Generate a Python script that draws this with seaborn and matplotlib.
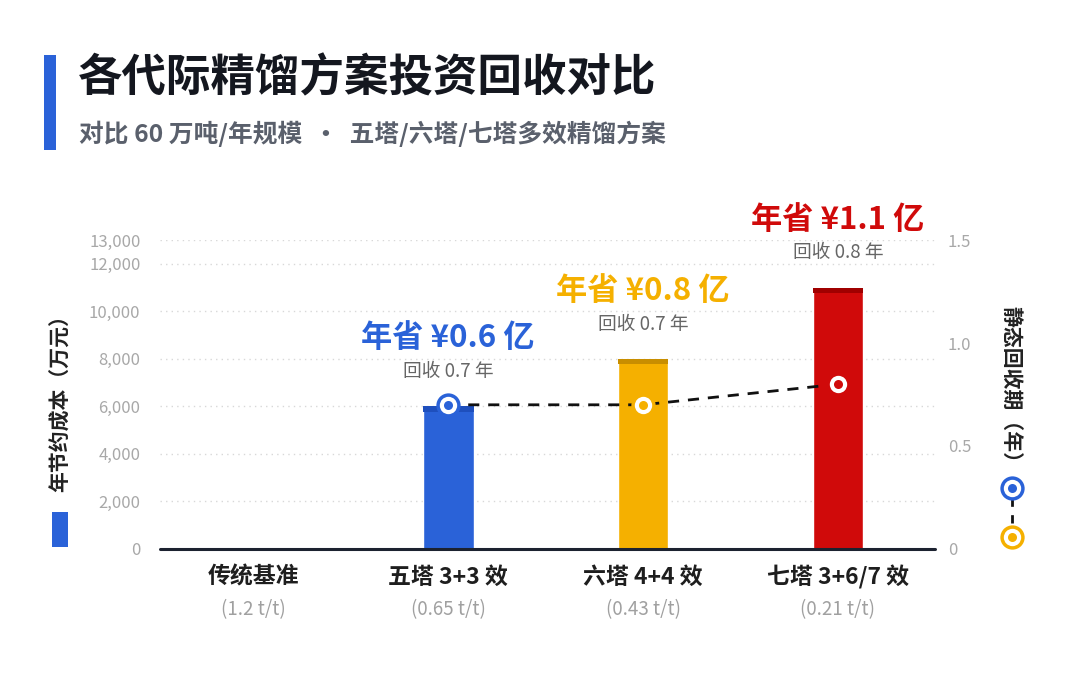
import numpy as np
import pandas as pd
import matplotlib
matplotlib.use("Agg")
import matplotlib.pyplot as plt
from matplotlib.patches import Rectangle
from matplotlib.lines import Line2D
from matplotlib.ticker import FuncFormatter
import seaborn as sns

# chart data
categories = ["传统基准", "五塔 3+3 效", "六塔 4+4 效", "七塔 3+6/7 效"]
intensity = ["(1.2 t/t)", "(0.65 t/t)", "(0.43 t/t)", "(0.21 t/t)"]
savings = [0, 6000, 8000, 11000]          # 年节约成本（万元）
payback = [np.nan, 0.7, 0.7, 0.8]         # 静态回收期（年）
headline = ["", "年省 ¥0.6 亿", "年省 ¥0.8 亿", "年省 ¥1.1 亿"]
subline = ["", "回收 0.7 年", "回收 0.7 年", "回收 0.8 年"]
left_ticks = [0, 2000, 4000, 6000, 8000, 10000, 12000, 13000]
right_ticks = [0, 0.5, 1.0, 1.5]

colors = ["#2a62d8", "#2a62d8", "#f5b000", "#d00a0a"]
caps = ["#1e4fbd", "#1e4fbd", "#c88e00", "#a00000"]
BLUE = "#2a62d8"
YELLOW = "#f5b000"

sns.set_theme(style="white")
plt.rcParams["font.family"] = ["Noto Sans CJK SC", "DejaVu Sans"]

df = pd.DataFrame({"cat": categories, "save": savings, "pb": payback})

fig = plt.figure(figsize=(10.8, 6.79), dpi=100)
ax = fig.add_axes([0.148, 0.1915, 0.718, 0.455])

sns.barplot(data=df, x="cat", y="save", hue="cat", palette=colors,
            width=0.26, legend=False, ax=ax, saturation=1)

# darker cap on top of each bar
for p, c in zip(ax.patches, caps):
    h = p.get_height()
    if h > 0:
        ax.add_patch(Rectangle((p.get_x(), h - 220), p.get_width(), 220,
                               color=c, lw=0, zorder=p.get_zorder() + 0.1))

ax.set_xlim(-0.48, 3.5)
ax.set_ylim(0, 13000)
ax.set_yticks(left_ticks)
ax.yaxis.set_major_formatter(FuncFormatter(lambda v, _: f"{int(v):,}"))
ax.tick_params(axis="y", length=0, pad=14, labelsize=12, labelcolor="#a8a8a8")
ax.tick_params(axis="x", length=0, pad=12)
ax.set_xticks(range(len(categories)))
ax.set_xticklabels(categories, fontsize=16.5, fontweight="bold", color="#1e1e1e")
ax.set_xlabel("")
ax.set_ylabel("")
ax.yaxis.grid(True, linestyle=(0, (1, 3)), color="#d8d8d8", lw=1)
ax.set_axisbelow(True)
for s in ax.spines.values():
    s.set_visible(False)
ax.axhline(0, color="#1c2230", lw=2.2, zorder=5, clip_on=False)

for i, t in enumerate(intensity):
    ax.text(i, -0.197, t, transform=ax.get_xaxis_transform(), ha="center",
            va="center", fontsize=13.5, color="#a0a0a0")

for i, (h1, h2) in enumerate(zip(headline, subline)):
    if not h1:
        continue
    ax.annotate(h1, xy=(i, savings[i]), xytext=(0, 49), textcoords="offset points",
                ha="center", va="center", fontsize=22.5, fontweight="bold", color=colors[i])
    ax.annotate(h2, xy=(i, savings[i]), xytext=(0, 25), textcoords="offset points",
                ha="center", va="center", fontsize=13.5, color="#666666")

# payback period on the right axis
ax2 = ax.twinx()
ax2.set_ylim(0, 1.5)
ax2.set_yticks(right_ticks)
ax2.set_yticklabels(["0", "0.5", "1.0", "1.5"])
ax2.tick_params(axis="y", length=0, pad=9, labelsize=12, labelcolor="#a8a8a8")
for s in ax2.spines.values():
    s.set_visible(False)
ax2.grid(False)

pb = df.dropna()
xpos = pb.index.to_numpy()
sns.lineplot(x=xpos, y=pb["pb"].to_numpy(), ax=ax2, color="#111111", lw=2,
             dashes=False, linestyle=(0, (4, 3.2)), zorder=3)
for x, y, c in zip(xpos, pb["pb"], [colors[i] for i in xpos]):
    ax2.plot(x, y, "o", ms=17.5, color=c, mew=0, zorder=4)
    ax2.plot(x, y, "o", ms=12.5, color="white", mew=0, zorder=5)
    ax2.plot(x, y, "o", ms=6.5, color=c, mew=0, zorder=6)
ax2.set_xlim(-0.48, 3.5)

W, H = 1080, 679


def fx(px):
    return px / W


def fy(py):
    return 1 - py / H


# header
fig.add_artist(Rectangle((fx(44), fy(150)), fx(12), 95 / H, color=BLUE,
                         transform=fig.transFigure, lw=0))
fig.text(fx(78), fy(78), "各代际精馏方案投资回收对比", fontsize=32, fontweight="heavy",
         color="#14171f", va="center", ha="left")
fig.text(fx(79), fy(134), "对比 60 万吨/年规模  ·  五塔/六塔/七塔多效精馏方案", fontsize=17.8,
         fontweight="bold", color="#5a606c", va="center", ha="left")

# axis titles
fig.text(fx(60), fy(398), "年节约成本（万元）", rotation=90, fontsize=15, fontweight="bold",
         color="#222222", ha="center", va="center")
fig.add_artist(Rectangle((fx(52), fy(547)), fx(16), 35 / H, color=BLUE,
                         transform=fig.transFigure, lw=0))
fig.text(fx(1010), fy(389), "静态回收期（年）", rotation=270, fontsize=15, fontweight="bold",
         color="#222222", ha="center", va="center")

fig.add_artist(Line2D([fx(1012), fx(1012)], [fy(498), fy(527)], transform=fig.transFigure,
                      color="#111111", lw=2, linestyle=(0, (3, 3))))
for py, c in [(488, BLUE), (537, YELLOW)]:
    for ms, col in [(17.5, c), (12.5, "white"), (6.5, c)]:
        fig.add_artist(Line2D([fx(1012)], [fy(py)], transform=fig.transFigure,
                              marker="o", ms=ms, color=col, mew=0, lw=0))

fig.savefig("out.png", dpi=100, facecolor="white")
